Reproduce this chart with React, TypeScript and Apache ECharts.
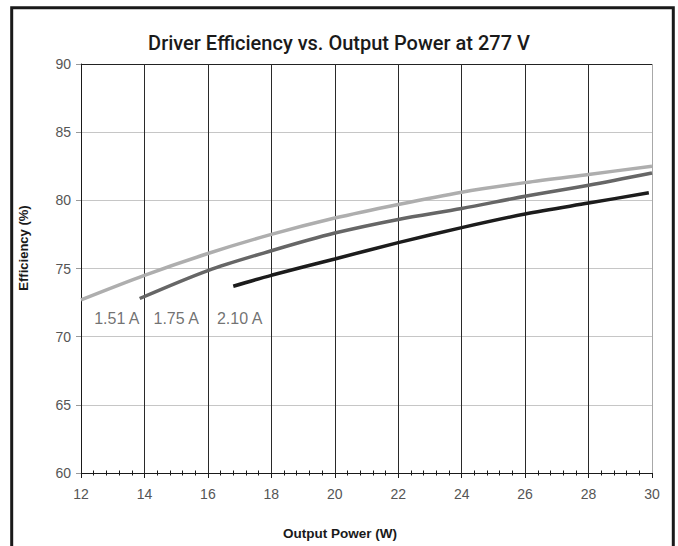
import React, { useEffect, useRef } from "react";
import * as echarts from "echarts";

const titleText = "Driver Efficiency vs. Output Power at 277 V";
const xAxisTitle = "Output Power (W)";
const yAxisTitle = "Efficiency (%)";

const seriesNames = ["1.51 A", "1.75 A", "2.10 A"];
const seriesColors = ["#aeaeae", "#666666", "#1c1c1c"];

const power151 = [12, 14, 16, 18, 20, 22, 24, 26, 28, 30];
const eff151 = [72.7, 74.5, 76.1, 77.5, 78.7, 79.7, 80.6, 81.3, 81.9, 82.5];

const power175 = [13.85, 16, 18, 20, 22, 24, 26, 28, 30];
const eff175 = [72.8, 74.85, 76.3, 77.6, 78.6, 79.4, 80.3, 81.1, 82.0];

const power210 = [16.8, 18, 20, 22, 24, 26, 28, 29.9];
const eff210 = [73.7, 74.5, 75.7, 76.9, 78.0, 79.0, 79.8, 80.55];

const labelX = [13.13, 15.0, 17.0];
const labelY = [71.35, 71.35, 71.35];

const xMin = 12;
const xMax = 30;
const xStep = 2;
const yMin = 60;
const yMax = 90;
const yStep = 5;

const FONT = '"Liberation Sans", Arial, Helvetica, sans-serif';
const TITLE_FONT = 'Roboto, "Liberation Sans", Arial, sans-serif';

function zip(xs: number[], ys: number[]) {
  return xs.map((x, i) => [x, ys[i]]);
}

export default function App() {
  const ref = useRef<HTMLDivElement>(null);

  useEffect(() => {
    if (!ref.current) return;
    const chart = echarts.init(ref.current, undefined, { renderer: "svg" });

    const xTickCount = Math.round((xMax - xMin) / xStep) + 1;
    const xSplitColors: string[] = [];
    for (let i = 0; i < xTickCount; i++) xSplitColors.push(i === xTickCount - 1 ? "#a8a8a8" : "#2a2a2a");
    const yTickCount = Math.round((yMax - yMin) / yStep) + 1;
    const ySplitColors: string[] = [];
    for (let i = 0; i < yTickCount; i++) ySplitColors.push(i === yTickCount - 1 ? "#222222" : "#c6c6c6");

    const lineData = [zip(power151, eff151), zip(power175, eff175), zip(power210, eff210)];

    chart.setOption({
      animation: false,
      backgroundColor: "#ffffff",
      textStyle: { fontFamily: FONT },
      title: {
        text: titleText,
        left: "center",
        top: 28,
        textStyle: { fontFamily: TITLE_FONT, fontSize: 20, fontWeight: 500, color: "#1a1a1a" },
      },
      grid: { left: 81, right: 26, top: 64, bottom: 73, containLabel: false },
      xAxis: [
        {
          type: "value",
          min: xMin,
          max: xMax,
          interval: xStep,
          axisLine: { show: true, lineStyle: { color: "#1a1a1a", width: 1 } },
          axisTick: { show: true, length: 5, lineStyle: { color: "#1a1a1a" } },
          minorTick: { show: true, splitNumber: 5, length: 2.5, lineStyle: { color: "#1a1a1a" } },
          axisLabel: { color: "#555555", fontSize: 14, margin: 14, fontFamily: FONT },
          splitLine: { show: true, lineStyle: { color: xSplitColors, width: 1 } },
        },
        {
          type: "value",
          position: "bottom",
          min: xMin,
          max: xMax,
          interval: xStep,
          axisLine: { show: false },
          axisTick: { show: false, inside: true },
          minorTick: { show: true, splitNumber: 5, length: 2.5, lineStyle: { color: "#1a1a1a" } },
          axisLabel: { show: false },
          splitLine: { show: false },
        },
      ],
      yAxis: {
        type: "value",
        min: yMin,
        max: yMax,
        interval: yStep,
        axisLine: { show: true, lineStyle: { color: "#1a1a1a", width: 1 } },
        axisTick: { show: true, length: 5, lineStyle: { color: "#999999" } },
        axisLabel: { color: "#555555", fontSize: 14, margin: 10, fontFamily: FONT },
        splitLine: { show: true, lineStyle: { color: ySplitColors, width: 1 } },
      },
      graphic: [
        {
          type: "rect",
          shape: { x: 11.7, y: 7.7, width: 661.6, height: 600 },
          style: { fill: "none", stroke: "#1a1a1a", lineWidth: 3 },
          silent: true,
        },
        {
          type: "text",
          x: 340,
          y: 533,
          style: {
            text: xAxisTitle,
            fontFamily: FONT,
            fontSize: 13.5,
            fontWeight: "bold",
            fill: "#1a1a1a",
            align: "center",
            verticalAlign: "middle",
          },
        },
        {
          type: "text",
          x: 23,
          y: 248,
          rotation: Math.PI / 2,
          style: {
            text: yAxisTitle,
            fontFamily: FONT,
            fontSize: 13,
            fontWeight: "bold",
            fill: "#1a1a1a",
            align: "center",
            verticalAlign: "middle",
          },
        },
      ],
      series: [
        ...lineData.map((d, i) => ({
          type: "line",
          name: seriesNames[i],
          data: d,
          smooth: 0.3,
          showSymbol: false,
          symbol: "none",
          lineStyle: { color: seriesColors[i], width: 3.5, cap: "butt" },
          z: 3,
        })),
        {
          type: "scatter",
          name: "labels",
          symbolSize: 1,
          itemStyle: { color: "transparent" },
          data: seriesNames.map((n, i) => ({ name: n, value: [labelX[i], labelY[i]] })),
          label: {
            show: true,
            position: "inside",
            formatter: (p: any) => p.name,
            fontFamily: FONT,
            fontSize: 16,
            color: "#4d4d4d",
          },
          z: 4,
        },
      ],
    });

    return () => chart.dispose();
  }, []);

  return (
    <div
      ref={ref}
      style={{ position: "fixed", left: 0, top: 0, width: 678, height: 546 }}
    />
  );
}
